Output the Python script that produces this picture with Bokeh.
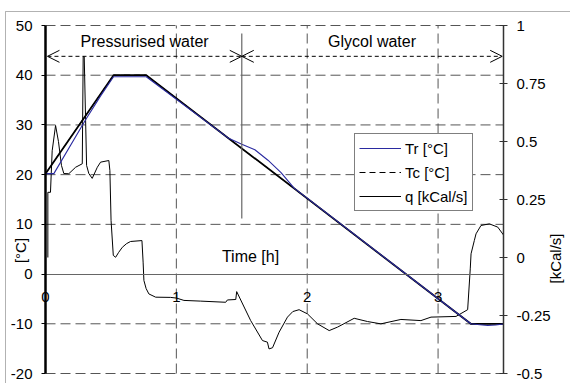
import math
from bokeh.plotting import figure
from bokeh.models import (Range1d, LinearAxis, FixedTicker, Legend, LegendItem,
                          Label, Arrow, OpenHead, PolyAnnotation)
from bokeh.embed import file_html
from bokeh.resources import INLINE

# ---------------- data ----------------
# Tc : set-point temperature [°C]
tc_t = [0.0, 0.52, 0.77, 3.25, 3.5]
tc_T = [20.2, 40.0, 40.0, -10.0, -10.0]

# Tr : reactor temperature [°C]
tr_t = [0.0, 0.064, 0.31, 0.42, 0.52, 0.77, 1.40, 1.50, 1.60, 1.70, 1.80, 1.90,
        3.25, 3.30, 3.38, 3.44, 3.5]
tr_T = [20.2, 20.2, 31.2, 35.8, 39.7, 39.7, 27.3, 26.1, 25.0, 22.9, 20.4, 17.3,
        -10.0, -10.15, -10.35, -10.25, -10.05]

# q : heat flow [kCal/s]
q_t = [0.018, 0.018, 0.038, 0.051, 0.077, 0.099, 0.122, 0.140, 0.178, 0.230, 0.281,
       0.288, 0.296, 0.314, 0.331, 0.357, 0.396, 0.421, 0.484, 0.492, 0.501, 0.518,
       0.536, 0.559, 0.587, 0.620, 0.650, 0.737, 0.746, 0.752, 0.769, 0.790, 0.842,
       0.956, 1.002, 1.058, 1.186, 1.377, 1.390, 1.454, 1.461, 1.568, 1.658, 1.696,
       1.708, 1.735, 1.785, 1.849, 1.890, 1.938, 2.002, 2.079, 2.168, 2.232, 2.359,
       2.461, 2.563, 2.716, 2.869, 2.946, 3.137, 3.226, 3.246, 3.252, 3.277, 3.290,
       3.328, 3.392, 3.456, 3.5]
q_v = [0.0, 0.281, 0.281, 0.46, 0.569, 0.50, 0.397, 0.362, 0.361, 0.389, 0.404,
       0.866, 0.866, 0.397, 0.362, 0.341, 0.389, 0.411, 0.418, 0.375, 0.16, 0.009,
       0.001, 0.022, 0.044, 0.060, 0.069, 0.073, -0.02, -0.099, -0.134, -0.157, -0.171,
       -0.172, -0.175, -0.185, -0.188, -0.193, -0.183, -0.181, -0.147, -0.272, -0.358, -0.365,
       -0.394, -0.389, -0.322, -0.257, -0.233, -0.225, -0.243, -0.286, -0.315, -0.300, -0.262,
       -0.276, -0.286, -0.267, -0.272, -0.257, -0.254, -0.225, -0.049, 0.016, 0.073, 0.102,
       0.138, 0.145, 0.131, 0.097]

# axes / ticks
x_ticks = [0, 1, 2, 3]
x_tick_labels = ["0", "1", "2", "3"]
y_ticks = [-20, -10, 0, 10, 20, 30, 40, 50]
y_tick_labels = ["-20", "-10", "0", "10", "20", "30", "40", "50"]
q_ticks = [-0.5, -0.25, 0, 0.25, 0.5, 0.75, 1]
q_tick_labels = ["-0.5", "-0.25", "0", "0.25", "0.5", "0.75", "1"]
x_lim = (0, 3.5)
y_lim = (-20, 50)
q_lim = (-0.5, 1)

# phases
phase_names = ["Pressurised water", "Glycol water"]
phase_bounds = [0.015, 1.5, 3.49]
phase_arrow_level = 43.8
phase_text_level = 46.8
separator_span = [11.2, 48.4]

# ---------------- layout (pixels) ----------------
W, H = 570, 383
PL, PR, PT, PB = 45, 503, 25, 373     # plotting area edges in the window
kx = (PR - PL) / (x_lim[1] - x_lim[0])
ky = (PB - PT) / (y_lim[1] - y_lim[0])
kq = (PB - PT) / (q_lim[1] - q_lim[0])

def xd(px):
    return x_lim[0] + (px - PL) / kx

def yd(py):
    return y_lim[1] - (py - PT) / ky

FONT = "Liberation Sans"
FS = "15px"
GRID_C = "#555555"
GRID_DASH = "10 5"

p = figure(width=W, height=H,
           x_range=Range1d(xd(0), xd(W)), y_range=Range1d(yd(H), yd(0)),
           output_backend="svg", toolbar_location=None,
           min_border_left=0, min_border_right=0, min_border_top=0, min_border_bottom=0)
p.outline_line_color = None
p.background_fill_color = "white"
p.border_fill_color = "white"
p.grid.visible = False

p.extra_y_ranges = {"q": Range1d(q_lim[0] - (H - PB) / kq, q_lim[1] + PT / kq)}

# bottom (time) axis, sitting on the zero line
xa = p.xaxis[0]
xa.fixed_location = 0
xa.bounds = x_lim
xa.ticker = FixedTicker(ticks=x_ticks)
xa.major_label_overrides = dict(zip(x_ticks, x_tick_labels))
xa.axis_line_color = "#666666"
xa.axis_line_width = 1.2
xa.major_tick_out = 0
xa.major_tick_in = 0
xa.minor_tick_line_color = None
xa.major_label_standoff = 18
xa.major_label_text_font = FONT
xa.major_label_text_font_size = FS
xa.major_label_text_color = "black"

# left axis
ya = p.yaxis[0]
ya.fixed_location = x_lim[0]
ya.bounds = y_lim
ya.ticker = FixedTicker(ticks=y_ticks)
ya.major_label_overrides = dict(zip(y_ticks, y_tick_labels))
ya.axis_line_width = 2.5
ya.axis_line_color = "black"
ya.major_tick_out = 4
ya.major_tick_in = 0
ya.minor_tick_line_color = None
ya.major_label_standoff = 9
ya.major_label_text_font = FONT
ya.major_label_text_font_size = FS
ya.major_label_text_color = "black"

# right axis
ra = LinearAxis(y_range_name="q", ticker=FixedTicker(ticks=q_ticks))
ra.fixed_location = x_lim[1]
ra.bounds = q_lim
ra.major_label_overrides = dict(zip(q_ticks, q_tick_labels))
ra.axis_line_width = 1.5
ra.axis_line_color = "#333333"
ra.major_tick_line_color = "#333333"
ra.major_tick_out = 4
ra.major_tick_in = 4
ra.minor_tick_line_color = None
ra.major_label_standoff = 9
ra.major_label_text_font = FONT
ra.major_label_text_font_size = FS
ra.major_label_text_color = "black"
p.add_layout(ra, "right")

# dashed grid inside the plotting area
hy = [t for t in y_ticks if t != 0]
p.segment(x0=[x_lim[0]] * len(hy), x1=[x_lim[1]] * len(hy), y0=hy, y1=hy,
          line_color=GRID_C, line_dash=GRID_DASH, line_width=1, level="underlay")
vx = [t for t in x_ticks if t != 0]
p.segment(x0=vx, x1=vx, y0=[y_lim[0]] * len(vx), y1=[y_lim[1]] * len(vx),
          line_color=GRID_C, line_dash=GRID_DASH, line_width=1, level="underlay")

# data lines
r_q = p.line(q_t, q_v, y_range_name="q", line_color="black", line_width=1)
r_tc = p.line(tc_t, tc_T, line_color="black", line_width=1.8)
r_tc_leg = p.line(tc_t, tc_T, line_color="black", line_width=1, line_dash="6 4")
r_tr = p.line(tr_t, tr_T, line_color="#2a2aa0", line_width=1.1)

# phase annotations
p.segment(x0=[phase_bounds[1]], y0=[separator_span[0]], x1=[phase_bounds[1]], y1=[separator_span[1]],
          line_color="#666666", line_width=1.2)
for i, name in enumerate(phase_names):
    a, b = phase_bounds[i], phase_bounds[i + 1]
    p.add_layout(Arrow(start=OpenHead(size=12, line_width=1, line_color="black"),
                       end=OpenHead(size=12, line_width=1, line_color="black"),
                       x_start=a, y_start=phase_arrow_level, x_end=b, y_end=phase_arrow_level,
                       line_dash="4 3", line_width=1, line_color="black"))
    p.add_layout(Label(x=(a + b) / 2, y=phase_text_level, text=name, text_align="center",
                       text_baseline="middle", text_font=FONT, text_font_size="16px",
                       text_color="black"))

p.add_layout(Label(x=xd(250), y=yd(256), text="Time [h]", text_align="center",
                   text_baseline="middle", text_font=FONT, text_font_size="16px",
                   text_color="black"))

# axis titles
p.add_layout(Label(x=xd(20), y=yd(250), text="[°C]",
                   angle=math.pi / 2, text_align="center", text_baseline="middle",
                   text_font=FONT, text_font_size=FS, text_color="black"))
p.add_layout(Label(x=xd(555), y=yd(258), text="[kCal/s]",
                   angle=math.pi / 2, text_align="center", text_baseline="middle",
                   text_font=FONT, text_font_size=FS, text_color="black"))

# outer chart border (left and top edges fall inside the window)
p.add_layout(PolyAnnotation(xs=[xd(5), xd(5), xd(W + 20), xd(W + 20)],
                            ys=[yd(H + 20), yd(11), yd(11), yd(H + 20)],
                            fill_color=None, fill_alpha=0, line_color="black", line_width=1))

legend = Legend(items=[LegendItem(label="Tr [°C]", renderers=[r_tr]),
                       LegendItem(label="Tc [°C]", renderers=[r_tc_leg]),
                       LegendItem(label="q [kCal/s]", renderers=[r_q])],
                location=(354, H - 211))
legend.border_line_color = "black"
legend.border_line_width = 1
legend.background_fill_color = "white"
legend.background_fill_alpha = 1
legend.padding = 4
legend.spacing = 4
legend.margin = 0
legend.glyph_width = 42
legend.glyph_height = 20
legend.label_height = 20
legend.label_standoff = 4
legend.label_text_font = FONT
legend.label_text_font_size = FS
legend.label_text_color = "black"
legend.label_text_baseline = "middle"
p.add_layout(legend)

open("out.html", "w").write(file_html(p, INLINE))
